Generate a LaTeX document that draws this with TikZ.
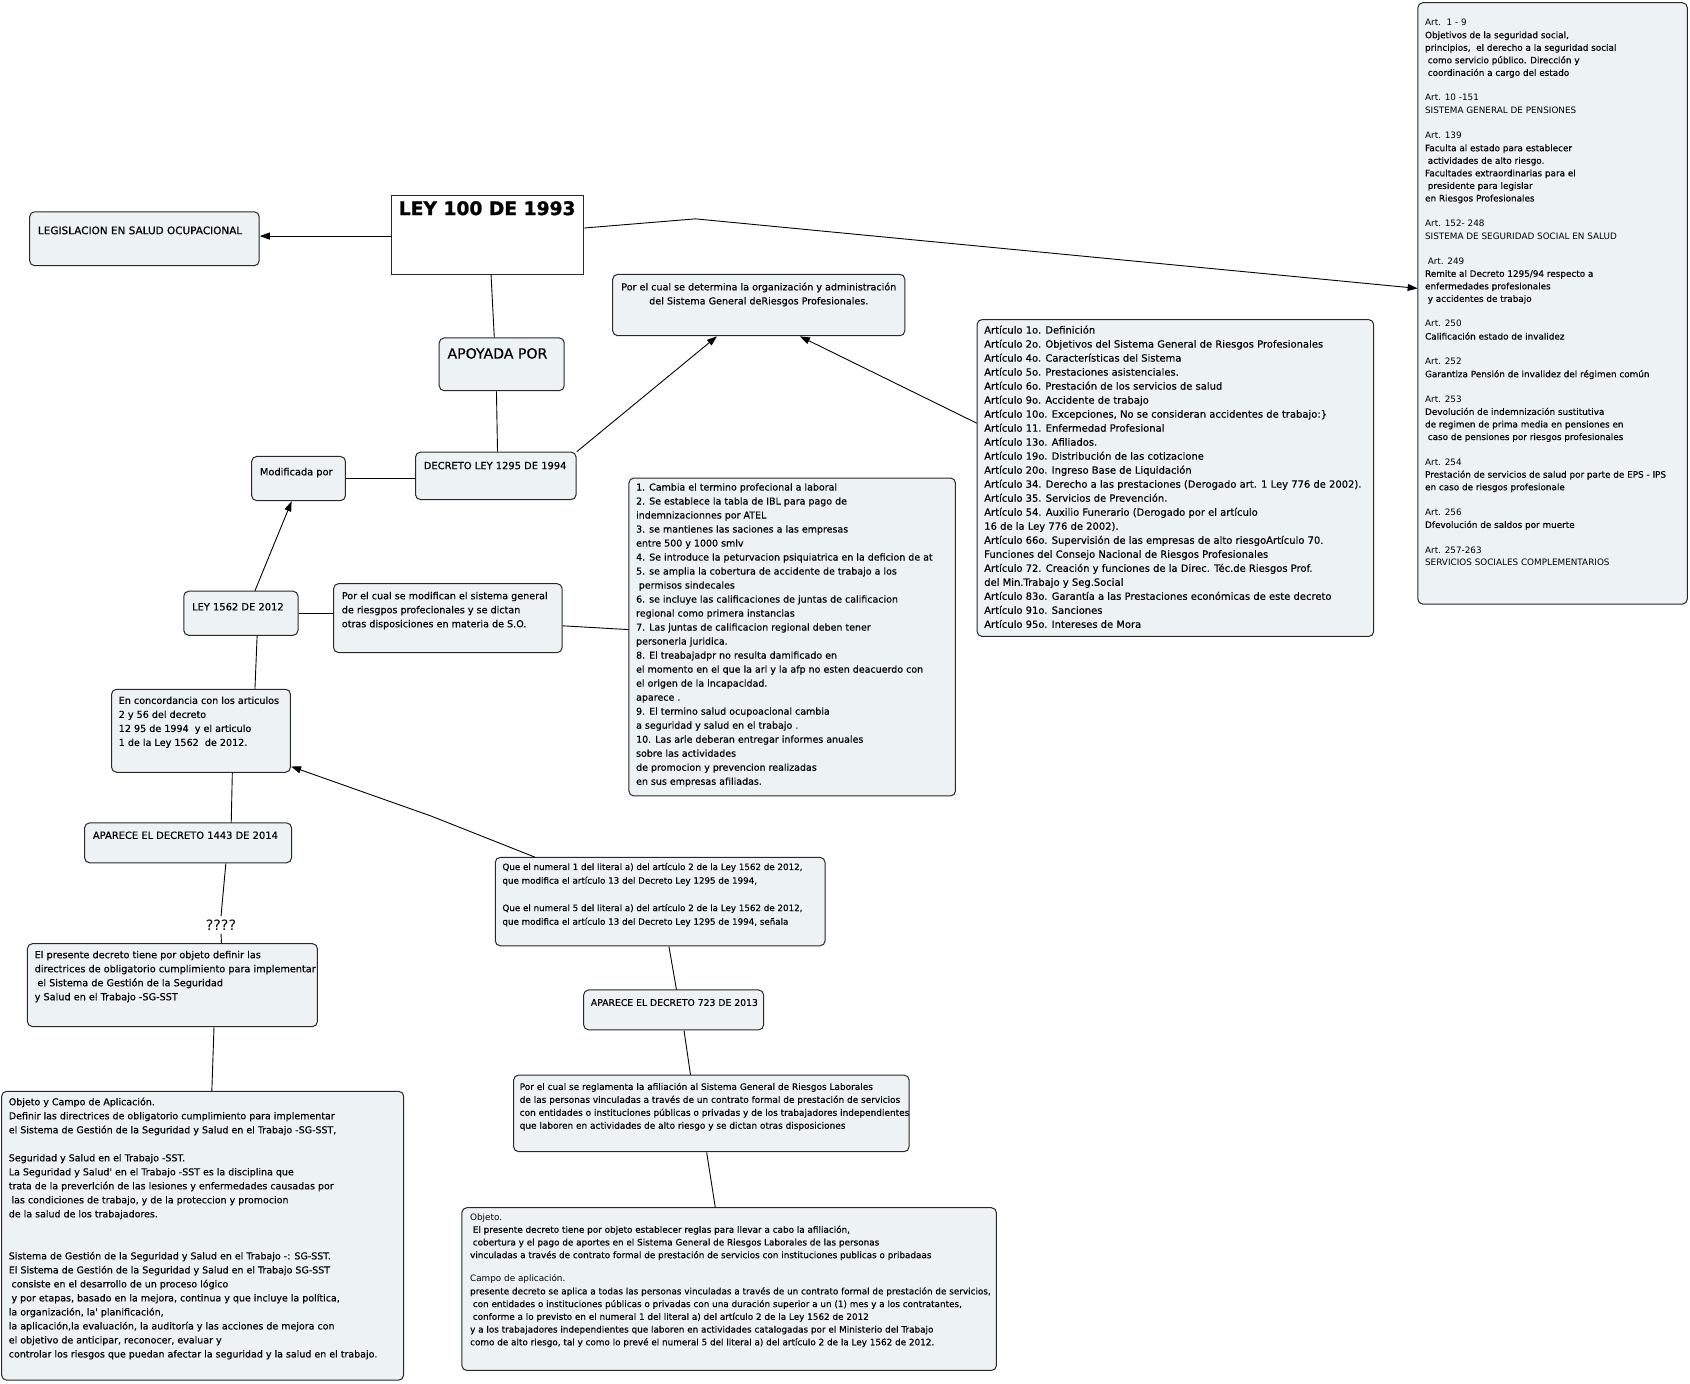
\documentclass[tikz,border=0pt]{standalone}
\usepackage{fontspec}
\setmainfont{DejaVu Sans}
\newfontfamily\hv{DejaVu Sans}[FakeBold=0.4]
\newfontfamily\hvt{DejaVu Sans Bold}[FakeBold=1.2]
\usetikzlibrary{arrows.meta}
\definecolor{boxfill}{RGB}{237,242,245}
\definecolor{boxline}{RGB}{40,40,40}
\newcommand\lsp{\hspace*{2.5pt}}
\newcommand\fsz[2]{\fontsize{#1}{#2}\selectfont}
\begin{document}
\begin{tikzpicture}[x=1pt,y=-1pt,scale=1.0778,transform shape,
  cbox/.style={draw=boxline, line width=1pt, rounded corners=5pt, fill=boxfill, inner sep=0pt, anchor=north west},
  txt/.style={inner sep=0pt, anchor=north west, align=left, execute at begin node={\rule{0pt}{0.85em}}},
  lbl/.style={inner sep=0pt, anchor=base west},
  conn/.style={draw=black, line width=0.9pt},
  arr/.style={conn, -{Triangle[length=10pt,width=7pt]}}
]
\fill[white] (0,0) rectangle (1568,1284);
\useasboundingbox (0,0) rectangle (1568,1284);

% LEY 100
\node[draw=boxline, line width=1pt, fill=white, inner sep=0pt, anchor=north west, minimum width=178pt, minimum height=73pt] (ley100) at (363,181) {};
\node[inner sep=0pt, anchor=base, font=\hvt\fsz{17.3}{20}] (ley100t) at (452,199.5) {LEY 100 DE 1993};

\node[cbox, minimum width=213pt, minimum height=50pt] (legis) at (27,196) {};
\node[lbl, font=\fsz{9.7}{12}\hv] (legist) at (35,217.3) {LEGISLACION EN SALUD OCUPACIONAL};

\node[cbox, minimum width=116pt, minimum height=49pt] (apoyada) at (407,313) {};
\node[lbl, font=\fsz{13.1}{15}\hv] (apoyadat) at (415,332.7) {APOYADA POR};

\node[cbox, minimum width=149pt, minimum height=44pt] (decreto) at (385,419) {};
\node[lbl, font=\fsz{9.2}{12}\hv] (decretot) at (393,435.3) {DECRETO LEY 1295 DE 1994};

\node[cbox, minimum width=271pt, minimum height=57pt] (determina) at (568,254) {};
\node[txt, anchor=north, align=center, font=\fsz{8.9}{13}\hv] (determinat) at (704,262.1) {Por el cual se determina la organización y administración\\del Sistema General deRiesgos Profesionales.};

\node[cbox, minimum width=368pt, minimum height=294pt] (articulo) at (906,296) {};
\node[txt, font=\fsz{9.25}{13}\hv] (articulot) at (913,301.9) {Artículo 1o. Definición\\
Artículo 2o. Objetivos del Sistema General de Riesgos Profesionales\\
Artículo 4o. Características del Sistema\\
Artículo 5o. Prestaciones asistenciales.\\
Artículo 6o. Prestación de los servicios de salud\\
Artículo 9o. Accidente de trabajo\\
Artículo 10o. Excepciones, No se consideran accidentes de trabajo:\}\\
Artículo 11. Enfermedad Profesional\\
Artículo 13o. Afiliados.\\
Artículo 19o. Distribución de las cotizacione\\
Artículo 20o. Ingreso Base de Liquidación\\
Artículo 34. Derecho a las prestaciones (Derogado art. 1 Ley 776 de 2002).\\
Artículo 35. Servicios de Prevención.\\
Artículo 54. Auxilio Funerario (Derogado por el artículo\\
16 de la Ley 776 de 2002).\\
Artículo 66o. Supervisión de las empresas de alto riesgoArtículo 70.\\
Funciones del Consejo Nacional de Riesgos Profesionales\\
Artículo 72. Creación y funciones de la Direc. Téc.de Riesgos Prof.\\
del Min.Trabajo y Seg.Social\\
Artículo 83o. Garantía a las Prestaciones económicas de este decreto\\
Artículo 91o. Sanciones\\
Artículo 95o. Intereses de Mora};

\node[cbox, minimum width=250pt, minimum height=558pt] (rbox) at (1315,2) {};
\node[txt, font=\fsz{8.2}{11.65}] (rboxt) at (1322,17.5) {Art.\ \ 1 - 9\\
{\hv Objetivos de la seguridad social,}\\
{\hv principios,\ \ el derecho a la seguridad social}\\
{\hv\lsp como servicio público. Dirección y}\\
{\hv\lsp coordinación a cargo del estado}\\[11.65pt]
Art. 10 -151\\
SISTEMA GENERAL DE PENSIONES\\[11.65pt]
Art. 139\\
{\hv Faculta al estado para establecer}\\
{\hv\lsp actividades de alto riesgo.}\\
{\hv Facultades extraordinarias para el}\\
{\hv\lsp presidente para legislar}\\
{\hv en Riesgos Profesionales}\\[11.65pt]
Art. 152- 248\\
SISTEMA DE SEGURIDAD SOCIAL EN SALUD\\[11.65pt]
\lsp Art. 249\\
{\hv Remite al Decreto 1295/94 respecto a}\\
{\hv enfermedades profesionales}\\
{\hv\lsp y accidentes de trabajo}\\[11.65pt]
Art. 250\\
{\hv Calificación estado de invalidez}\\[11.65pt]
Art. 252\\
{\hv Garantiza Pensión de invalidez del régimen común}\\[11.65pt]
Art. 253\\
{\hv Devolución de indemnización sustitutiva}\\
{\hv de regimen de prima media en pensiones en}\\
{\hv\lsp caso de pensiones por riesgos profesionales}\\[11.65pt]
Art. 254\\
{\hv Prestación de servicios de salud por parte de EPS - IPS}\\
{\hv en caso de riesgos profesionale}\\[11.65pt]
Art. 256\\
{\hv Dfevolución de saldos por muerte}\\[11.65pt]
Art. 257-263\\
SERVICIOS SOCIALES COMPLEMENTARIOS};

\node[cbox, minimum width=87pt, minimum height=41pt] (modif) at (233,423) {};
\node[lbl, font=\fsz{9.1}{12}\hv] (modift) at (241,441) {Modificada por};

\node[cbox, minimum width=106pt, minimum height=41pt] (ley1562) at (170,548) {};
\node[lbl, font=\fsz{9.2}{12}\hv] (ley1562t) at (178,566.3) {LEY 1562 DE 2012};

\node[cbox, minimum width=212pt, minimum height=64pt] (modifican) at (309,541) {};
\node[txt, font=\fsz{8.9}{13}\hv] (modificant) at (317,549) {Por el cual se modifican el sistema general\\
de riesgpos profecionales y se dictan\\
otras disposiciones en materia de S.O.};

\node[cbox, minimum width=303pt, minimum height=295pt] (list) at (583,443) {};
\node[txt, font=\fsz{8.8}{13}\hv] (listt) at (590,448.2) {1. Cambia el termino profecional a laboral\\
2. Se establece la tabla de IBL para pago de\\
indemnizacionnes por ATEL\\
3. se mantienes las saciones a las empresas\\
entre 500 y 1000 smlv\\
4. Se introduce la peturvacion psiquiatrica en la deficion de at\\
5. se amplia la cobertura de accidente de trabajo a los\\
\lsp permisos sindecales\\
6. se incluye las calificaciones de juntas de calificacion\\
regional como primera instancias\\
7. Las juntas de calificacion regional deben tener\\
personeria juridica.\\
8. El treabajadpr no resulta damificado en\\
el momento en el que la arl y la afp no esten deacuerdo con\\
el origen de la incapacidad.\\
aparece .\\
9. El termino salud ocupoacional cambia\\
a seguridad y salud en el trabajo .\\
10. Las arle deberan entregar informes anuales\\
sobre las actividades\\
de promocion y prevencion realizadas\\
en sus empresas afiliadas.};

\node[cbox, minimum width=166pt, minimum height=77pt] (concord) at (103,639) {};
\node[txt, font=\fsz{8.9}{13}\hv] (concordt) at (110,646.1) {En concordancia con los articulos\\
2 y 56 del decreto\\
12 95 de 1994\ \ y el articulo\\
1 de la Ley 1562\ \ de 2012.};

\node[cbox, minimum width=192pt, minimum height=37pt] (d1443) at (78,763) {};
\node[lbl, font=\fsz{9.2}{12}\hv] (d1443t) at (86,778.3) {APARECE EL DECRETO 1443 DE 2014};

\node[inner sep=3pt, font=\fsz{13.2}{15}] (qqq) at (205,858) {????};

\node[cbox, minimum width=269pt, minimum height=77pt] (presente) at (25,875) {};
\node[txt, font=\fsz{9}{13}\hv] (presentet) at (32,882) {El presente decreto tiene por objeto definir las\\
directrices de obligatorio cumplimiento para implementar\\
\lsp el Sistema de Gestión de la Seguridad\\
y Salud en el Trabajo -SG-SST};

\node[cbox, minimum width=373pt, minimum height=268pt] (objeto) at (1,1012) {};
\node[txt, font=\fsz{8.8}{13}\hv] (objetot) at (8,1018.2) {Objeto y Campo de Aplicación.\\
Definir las directrices de obligatorio cumplimiento para implementar\\
el Sistema de Gestión de la Seguridad y Salud en el Trabajo -SG-SST,\\[13pt]
Seguridad y Salud en el Trabajo -SST.\\
La Seguridad y Salud' en el Trabajo -SST es la disciplina que\\
trata de la preverlción de las lesiones y enfermedades causadas por\\
\lsp las condiciones de trabajo, y de la proteccion y promocion\\
de la salud de los trabajadores.\\[26pt]
Sistema de Gestión de la Seguridad y Salud en el Trabajo -: SG-SST.\\
El Sistema de Gestión de la Seguridad y Salud en el Trabajo SG-SST\\
\lsp consiste en el desarrollo de un proceso lógico\\
\lsp y por etapas, basado en la mejora, continua y que incluye la política,\\
la organización, la' planificación,\\
la aplicación,la evaluación, la auditoría y las acciones de mejora con\\
el objetivo de anticipar, reconocer, evaluar y\\
controlar los riesgos que puedan afectar la seguridad y la salud en el trabajo.};

\node[cbox, minimum width=306pt, minimum height=82pt] (que) at (459,795) {};
\node[txt, font=\fsz{8.1}{12.7}\hv] (quet) at (466,800.5) {Que el numeral 1 del literal a) del artículo 2 de la Ley 1562 de 2012,\\
que modifica el artículo 13 del Decreto Ley 1295 de 1994,\\[12.7pt]
Que el numeral 5 del literal a) del artículo 2 de la Ley 1562 de 2012,\\
que modifica el artículo 13 del Decreto Ley 1295 de 1994, señala};

\node[cbox, minimum width=167pt, minimum height=37pt] (d723) at (541,918) {};
\node[lbl, font=\fsz{8.6}{12}\hv] (d723t) at (548,933.3) {APARECE EL DECRETO 723 DE 2013};

\node[cbox, minimum width=367pt, minimum height=71pt] (reglamenta) at (476,997) {};
\node[txt, font=\fsz{8.3}{12}\hv] (reglamentat) at (482,1004.4) {Por el cual se reglamenta la afiliación al Sistema General de Riesgos Laborales\\
de las personas vinculadas a través de un contrato formal de prestación de servicios\\
con entidades o instituciones públicas o privadas y de los trabajadores independientes\\
que laboren en actividades de alto riesgo y se dictan otras disposiciones};

\node[cbox, minimum width=496pt, minimum height=151pt] (bottom) at (428,1120) {};
\node[txt, font=\fsz{8.2}{11.8}] (bottomt) at (436,1125.5) {Objeto.\\
{\hv\lsp El presente decreto tiene por objeto establecer reglas para llevar a cabo la afiliación,}\\
{\hv\lsp cobertura y el pago de aportes en el Sistema General de Riesgos Laborales de las personas}\\
{\hv vinculadas a través de contrato formal de prestación de servicios con instituciones publicas o pribadaas}\\[10pt]
Campo de aplicación.\\
{\hv presente decreto se aplica a todas las personas vinculadas a través de un contrato formal de prestación de servicios,}\\
{\hv\lsp con entidades o instituciones públicas o privadas con una duración superior a un (1) mes y a los contratantes,}\\
{\hv\lsp conforme a lo previsto en el numeral 1 del literal a) del artículo 2 de la Ley 1562 de 2012}\\
{\hv y a los trabajadores independientes que laboren en actividades catalogadas por el Ministerio del Trabajo}\\
{\hv como de alto riesgo, tal y como lo prevé el numeral 5 del literal a) del artículo 2 de la Ley 1562 de 2012.}};

% connectors
\coordinate (lA) at (305,219);
\coordinate (lB) at (645,203);
\coordinate (lC) at (400,757);

\draw[arr] (ley100.west |- lA) -- (lA) -- (legis.east |- lA);
\draw[arr] ([yshift=6.5pt]ley100.east) -- (lB) -- ([yshift=14pt]rbox.west);
\draw[conn] ([xshift=3pt]ley100.south) -- ([xshift=-7pt]apoyada.north);
\draw[conn] ([xshift=-5pt]apoyada.south) -- ([xshift=1.5pt]decreto.north);
\draw[arr] (decreto.north east) -- ([xshift=-39pt]determina.south);
\draw[arr] ([yshift=51pt]articulo.west) -- ([xshift=38pt]determina.south);
\draw[conn] (modif.east) -- (modif.east -| decreto.west);
\draw[arr] ([xshift=13pt]ley1562.north) -- ([xshift=-6.5pt]modif.south);
\draw[conn] (ley1562.east) -- (ley1562.east -| modifican.west);
\draw[conn] ([yshift=-7pt]modifican.east) -- ([yshift=7pt]list.west);
\draw[conn] ([xshift=15pt]ley1562.south) -- ([xshift=50pt]concord.north);
\draw[conn] ([xshift=29pt]concord.south) -- ([xshift=40pt]d1443.north);
\draw[conn] ([xshift=35pt]d1443.south) -- (qqq.north);
\draw[conn] (qqq.south) -- ([xshift=45.5pt]presente.north);
\draw[conn] ([xshift=38.5pt]presente.south) -- ([xshift=8.5pt]objeto.north);
\draw[arr] ([xshift=37pt]que.north west) -- (lC) -- ([yshift=6pt]concord.south east);
\draw[conn] ([xshift=8pt]que.south) -- ([xshift=2.5pt]d723.north);
\draw[conn] ([xshift=9.5pt]d723.south) -- ([xshift=-19.5pt]reglamenta.north);
\draw[conn] ([xshift=-4.5pt]reglamenta.south) -- ([xshift=-13pt]bottom.north);
\end{tikzpicture}
\end{document}
